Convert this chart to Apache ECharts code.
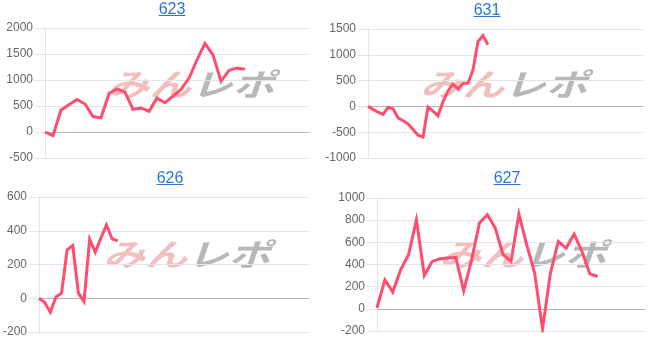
<!DOCTYPE html>
<html><head><meta charset="utf-8">
<script src="https://cdn.jsdelivr.net/npm/echarts@6/dist/echarts.min.js"></script>
<style>
html,body{margin:0;padding:0;background:#fff;}
#c{width:653px;height:339px;}
</style></head><body>
<div id="c"></div>
<script>
// ---- data ----
const titles = ['623', '631', '626', '627'];
const catCount623 = 34, catCount631 = 56, catCount626 = 49, catCount627 = 35;
const cats623 = Array.from({length: catCount623}, (_, i) => String(i + 1));
const cats631 = Array.from({length: catCount631}, (_, i) => String(i + 1));
const cats626 = Array.from({length: catCount626}, (_, i) => String(i + 1));
const cats627 = Array.from({length: catCount627}, (_, i) => String(i + 1));
const vals623 = [0, -70, 424, 525, 627, 538, 297, 272, 740, 829, 766, 437, 462, 399, 652, 563, 690, 816, 1038, 1386, 1703, 1481, 975, 1184, 1228, 1209];
const vals631 = [0, -58, -110, -156, -19, -45, -221, -279, -338, -448, -558, -591, -13, -91, -182, 91, 299, 435, 338, 448, 448, 708, 1260, 1370, 1195];
const vals626 = [0, -24, -83, 8, 30, 287, 312, 30, -20, 350, 273, 356, 435, 352, 340];
const vals627 = [10, 262, 151, 352, 488, 804, 301, 428, 452, 458, 464, 163, 443, 774, 849, 729, 488, 428, 855, 578, 322, -181, 322, 608, 548, 675, 518, 316, 292];
const yTicks623 = {min: -500, max: 2000, interval: 500};
const yTicks631 = {min: -1000, max: 1500, interval: 500};
const yTicks626 = {min: -200, max: 600, interval: 200};
const yTicks627 = {min: -200, max: 1000, interval: 200};

// ---- layout ----
const grids = [
  {left: 45, top: 28, width: 264, height: 130},
  {left: 368, top: 29, width: 275, height: 129},
  {left: 37, top: 197, width: 272, height: 135},
  {left: 377, top: 198, width: 268, height: 133}
];
const titlePos = [[172, 10], [487, 11], [170, 179], [507, 179]];
const markPos = [[191, 84], [504, 84], [187, 254], [523, 254]];
const cats = [cats623, cats631, cats626, cats627];
const vals = [vals623, vals631, vals626, vals627];
const yt = [yTicks623, yTicks631, yTicks626, yTicks627];

const LINE = '#ff4d6d', GRID = '#e4e4e4', ZERO = '#b4b4b4', LABEL = '#666';
const FONT = '"Liberation Sans", Arial, sans-serif';

const xAxis = cats.map((c, i) => ({
  type: 'category', gridIndex: i, data: c, boundaryGap: false,
  axisLine: {show: true, onZero: true, lineStyle: {color: ZERO, width: 1}},
  axisTick: {show: false}, axisLabel: {show: false}, splitLine: {show: false}
}));
const yAxis = yt.map((t, i) => ({
  type: 'value', gridIndex: i, min: t.min, max: t.max, interval: t.interval,
  axisLine: {show: true, lineStyle: {color: GRID}},
  axisTick: {show: true, length: 10, lineStyle: {color: GRID}},
  axisLabel: {color: LABEL, fontSize: 12, fontFamily: FONT, margin: 12, formatter: v => String(v)},
  splitLine: {show: true, lineStyle: {color: GRID, width: 1}}
}));
const series = vals.map((v, i) => ({
  type: 'line', xAxisIndex: i, yAxisIndex: i, data: v, showSymbol: false, symbol: 'none',
  lineStyle: {color: LINE, width: 3, join: 'miter'}, itemStyle: {color: LINE}, z: 5, silent: true
}));

const graphic = [];
titles.forEach((t, i) => {
  const [x, y] = titlePos[i];
  graphic.push({type: 'text', x: x, y: y, z: 10, style: {
    text: t, fill: '#2a76d2', font: '16px ' + FONT,
    align: 'center', verticalAlign: 'middle', textAlign: 'center', textVerticalAlign: 'middle'}});
  graphic.push({type: 'line', z: 10, shape: {x1: x - 13.5, y1: y + 5.5, x2: x + 13.5, y2: y + 5.5},
    style: {stroke: '#2a76d2', lineWidth: 1}});
  const [mx, my] = markPos[i];
  graphic.push({type: 'text', x: mx, y: my, z: -1, scaleX: 1.35, scaleY: 1, style: {
    text: '{a|みん}{b|レポ}',
    align: 'center', verticalAlign: 'middle', textAlign: 'center', textVerticalAlign: 'middle',
    rich: {
      a: {fill: 'rgba(226,110,110,0.45)', fontStyle: 'italic', fontWeight: 'bold', fontSize: 31, fontFamily: '"Noto Sans CJK JP"'},
      b: {fill: '#b8b8b8', fontStyle: 'italic', fontWeight: 'bold', fontSize: 31, fontFamily: '"Noto Sans CJK JP"'}
    }}});
});

const chart = echarts.init(document.getElementById('c'), null, {renderer: 'canvas'});
chart.setOption({
  animation: false,
  backgroundColor: '#fff',
  grid: grids,
  xAxis: xAxis,
  yAxis: yAxis,
  series: series,
  graphic: graphic
});
</script>
</body></html>
